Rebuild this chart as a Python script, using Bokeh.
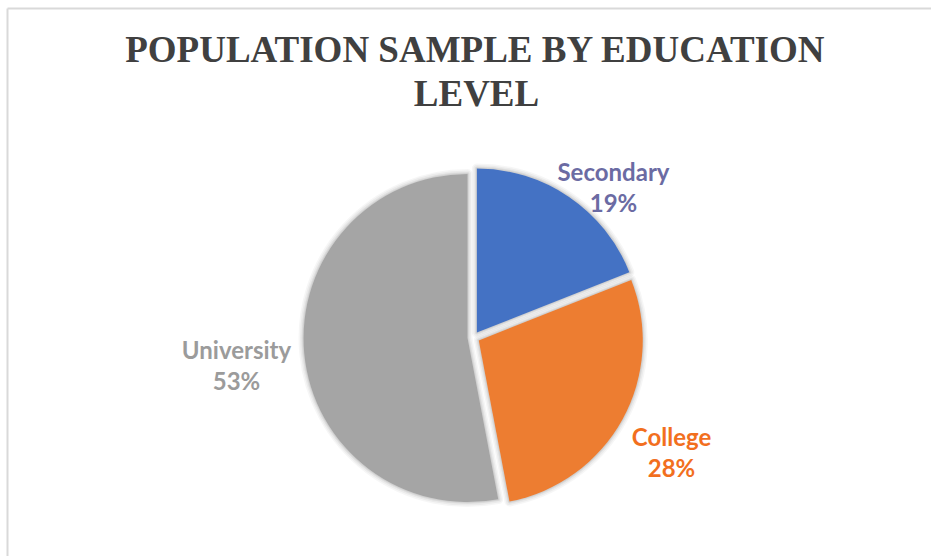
import numpy as np
from bokeh.plotting import figure
from bokeh.models import Range1d, Label, ColumnDataSource
from bokeh.embed import file_html
from bokeh.resources import INLINE

# ---- data ----
categories = ["Secondary", "College", "University"]
shares = [19, 28, 53]
slice_colors = ["#4472C4", "#ED7D31", "#A5A5A5"]
label_colors = ["#6B6BA3", "#F26F1E", "#9B9B9B"]
title_lines = ["POPULATION SAMPLE BY EDUCATION", "LEVEL"]

# ---- layout ----
W, H = 931, 556
CX, CY = 473, H - 337      # pie centre (pixel space, y up)
R = 164
EXPLODE = 6

p = figure(width=W, height=H, x_range=Range1d(0, W), y_range=Range1d(0, H),
           x_axis_type=None, y_axis_type=None, output_backend="svg",
           toolbar_location=None, min_border=0)
p.grid.visible = False
p.outline_line_color = None
p.background_fill_color = "white"
p.border_fill_color = "white"

# chart border (top and left edges visible)
p.line(x=[7, W + 5], y=[H - 8, H - 8], line_color="#D9D9D9", line_width=2)
p.line(x=[7, 7], y=[H - 8, -5], line_color="#D9D9D9", line_width=2)

total = float(sum(shares))
cum = np.concatenate([[0.0], np.cumsum(shares) / total])
start = np.pi / 2 - 2 * np.pi * cum[:-1]
end = np.pi / 2 - 2 * np.pi * cum[1:]
mid = (start + end) / 2
xs = CX + EXPLODE * np.cos(mid)
ys = CY + EXPLODE * np.sin(mid)

src = ColumnDataSource(dict(x=xs, y=ys, start=start, end=end,
                            color=slice_colors, cat=categories))

# soft shadow
for lw, a in [(10, 0.035), (7, 0.045), (4, 0.06), (2, 0.06)]:
    p.wedge(x="x", y="y", radius=R, start_angle="start", end_angle="end",
            direction="clock", source=src, fill_alpha=0, line_color="black",
            line_alpha=a, line_width=lw, line_join="round")

p.wedge(x="x", y="y", radius=R, start_angle="start", end_angle="end",
        direction="clock", source=src, fill_color="color", line_color=None)

# data labels (name + percentage), centre of first line, line gap
label_pos = [(613, 171), (671, 436), (236, 349)]
LINE_GAP = 31
for cat, s, col, (lx, ly) in zip(categories, shares, label_colors, label_pos):
    for i, txt in enumerate([cat, f"{s}%"]):
        p.add_layout(Label(x=lx, y=H - (ly + LINE_GAP * i), text=txt,
                           text_font="Lato", text_font_style="bold",
                           text_font_size="24px", text_color=col,
                           text_align="center", text_baseline="middle"))

# title
for i, (txt, tx) in enumerate(zip(title_lines, [475, 476])):
    p.add_layout(Label(x=tx, y=H - (49 + 44 * i), text=txt,
                       text_font="Liberation Serif", text_font_style="bold",
                       text_font_size="37px", text_color="#404040",
                       text_align="center", text_baseline="middle"))

open("out.html", "w").write(file_html(p, INLINE))
